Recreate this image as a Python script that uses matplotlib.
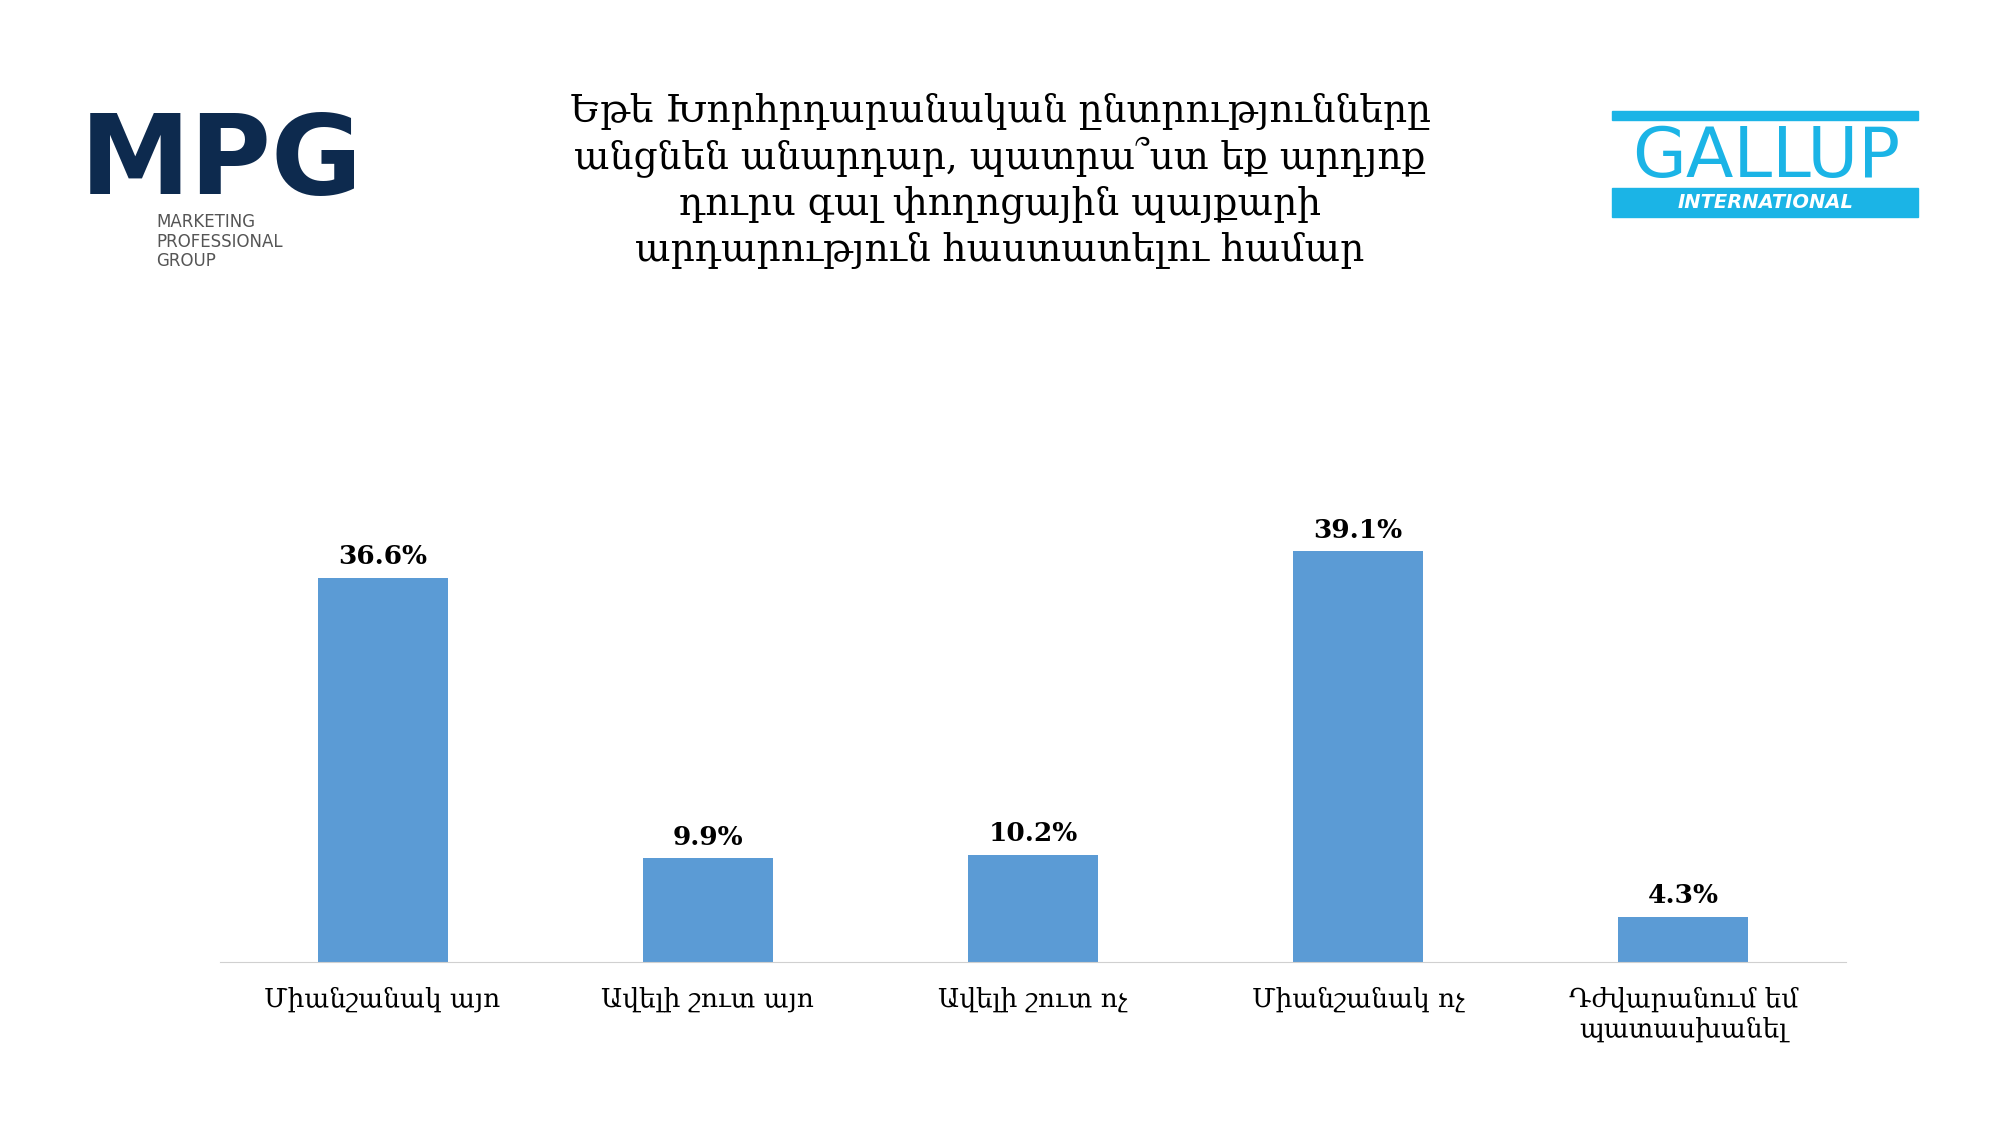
import matplotlib.pyplot as plt
from matplotlib.patches import Rectangle

categories = ["Միանշանակ այո", "Ավելի շուտ այո", "Ավելի շուտ ոչ", "Միանշանակ ոչ", "Դժվարանում եմ\nպատասխանել"]
values = [36.6, 9.9, 10.2, 39.1, 4.3]
title = ("Եթե Խորհրդարանական ընտրությունները\nանցնեն անարդար, պատրա՞ստ եք արդյոք\n"
         "դուրս գալ փողոցային պայքարի\nարդարություն հաստատելու համար")

plt.rcParams['font.family'] = ['DejaVu Serif', 'DejaVu Sans']

fig = plt.figure(figsize=(20, 11.25), dpi=100)
ax = fig.add_axes([0.11, 0.145, 0.813, 0.42])
x = range(len(values))
ax.bar(x, values, width=0.4, color="#5b9bd5")
for i, v in zip(x, values):
    ax.text(i, v + 0.8, f"{v}%", ha="center", va="bottom", fontsize=19, fontweight="bold")
ax.set_xlim(-0.5, 4.5)
ax.set_ylim(0, 45)
ax.set_xticks(list(x))
ax.set_xticklabels(categories, fontsize=19)
ax.tick_params(axis="x", length=0, pad=18)
ax.set_yticks([])
for s in ["top", "right", "left"]:
    ax.spines[s].set_visible(False)
ax.spines["bottom"].set_color("#d0d0d0")

fig.text(0.5, 0.84, title, ha="center", va="center", fontsize=27, linespacing=1.25)

# MPG logo (approximation)
fig.text(0.04, 0.855, "MPG", fontsize=80, fontweight="bold", color="#0d2a4e",
         family="DejaVu Sans", ha="left", va="center")
fig.text(0.078, 0.785, "MARKETING\nPROFESSIONAL\nGROUP", fontsize=12, color="#555555",
         family="DejaVu Sans", ha="left", va="center", linespacing=1.1)

# Gallup logo (approximation)
fig.text(0.883, 0.86, "GALLUP", fontsize=50, color="#1bb4e6", family="DejaVu Sans",
         ha="center", va="center")
fig.patches.append(Rectangle((0.806, 0.893), 0.153, 0.008, transform=fig.transFigure, color="#1bb4e6"))
fig.patches.append(Rectangle((0.806, 0.807), 0.153, 0.026, transform=fig.transFigure, color="#1bb4e6"))
fig.text(0.883, 0.82, "INTERNATIONAL", fontsize=14, color="white", fontweight="bold",
         style="italic", family="DejaVu Sans", ha="center", va="center")

fig.savefig("out.png", dpi=100, facecolor="white")
